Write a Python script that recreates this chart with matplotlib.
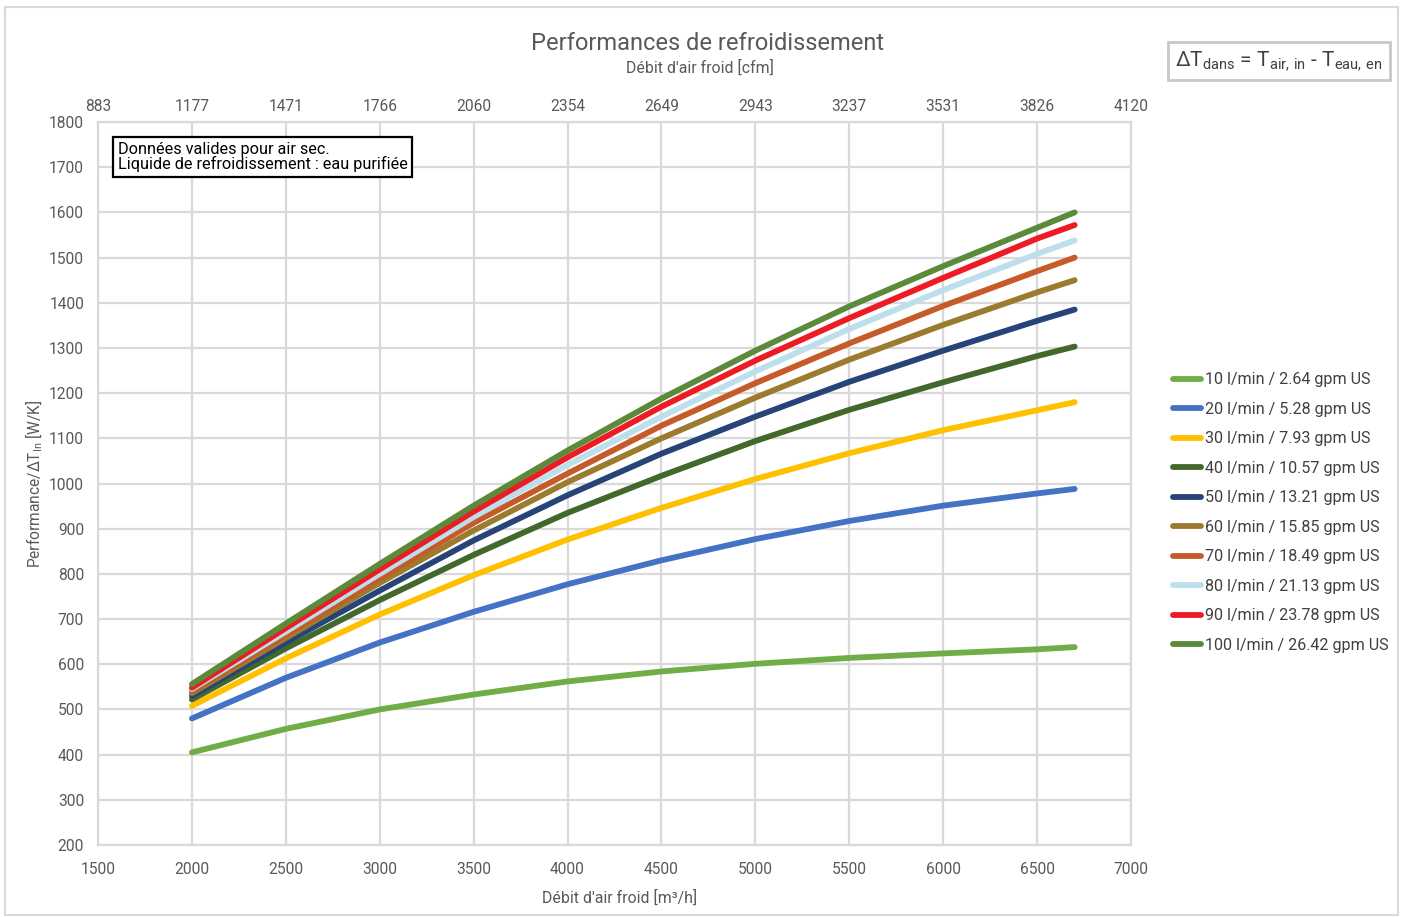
import matplotlib
matplotlib.use("Agg")
import matplotlib.pyplot as plt
from matplotlib.patches import Rectangle

plt.rcParams['font.family'] = ['Roboto', 'DejaVu Sans']
plt.rcParams['mathtext.fontset'] = 'custom'
plt.rcParams['mathtext.rm'] = 'Roboto'
plt.rcParams['mathtext.it'] = 'Roboto'

# airflow [m3/h]
airflow = [2000, 2500, 3000, 3500, 4000, 4500, 5000, 5500, 6000, 6500, 6700]

# performance / dT [W/K] for each coolant flow
perf = {
    "10 l/min / 2.64 gpm US":   [405, 457, 500, 533, 562, 584, 601, 614, 624, 633, 638],
    "20 l/min / 5.28 gpm US":   [480, 570, 648, 716, 777, 830, 877, 917, 951, 978, 988],
    "30 l/min / 7.93 gpm US":   [508, 613, 710, 797, 876, 946, 1010, 1067, 1118, 1162, 1180],
    "40 l/min / 10.57 gpm US":  [522, 635, 742, 842, 935, 1017, 1094, 1163, 1224, 1282, 1303],
    "50 l/min / 13.21 gpm US":  [530, 648, 763, 874, 974, 1066, 1148, 1225, 1294, 1360, 1385],
    "60 l/min / 15.85 gpm US":  [536, 658, 780, 896, 1003, 1100, 1190, 1274, 1351, 1423, 1450],
    "70 l/min / 18.49 gpm US":  [541, 665, 790, 913, 1022, 1128, 1222, 1310, 1393, 1470, 1500],
    "80 l/min / 21.13 gpm US":  [545, 672, 800, 926, 1041, 1148, 1248, 1342, 1428, 1508, 1538],
    "90 l/min / 23.78 gpm US":  [548, 680, 810, 938, 1058, 1170, 1272, 1366, 1455, 1542, 1572],
    "100 l/min / 26.42 gpm US": [556, 690, 822, 951, 1073, 1188, 1294, 1392, 1481, 1566, 1600],
}
colors = ["#70ad47", "#4472c4", "#ffc000", "#43682b", "#264478",
          "#9c7a2e", "#c65a28", "#bcdfeb", "#ed1c24", "#5a8a3a"]

x_ticks = [1500, 2000, 2500, 3000, 3500, 4000, 4500, 5000, 5500, 6000, 6500, 7000]
cfm_labels = ["883", "1177", "1471", "1766", "2060", "2354", "2649", "2943",
              "3237", "3531", "3826", "4120"]

txt = "#595959"
grid = "#d9d9d9"

fig = plt.figure(figsize=(14.05, 9.17), dpi=100)
fig.patches.append(Rectangle((5/1405, 2/917), 1393/1405, 908/917, transform=fig.transFigure,
                             fill=False, edgecolor=grid, lw=1.5))
ax = fig.add_axes([98/1405, 1 - 845/917, (1131 - 98)/1405, (845 - 122)/917])

for (name, vals), c in zip(perf.items(), colors):
    ax.plot(airflow, vals, color=c, lw=4.2, solid_capstyle='round',
            solid_joinstyle='round', label=name)

ax.set_xlim(1500, 7000)
ax.set_ylim(200, 1800)
ax.set_xticks(x_ticks)
ax.set_yticks(range(200, 1801, 100))
ax.grid(True, color=grid, lw=1.6)
ax.set_axisbelow(True)
for s in ax.spines.values():
    s.set_color(grid)
    s.set_linewidth(1.6)
ax.tick_params(axis='y', length=0, labelsize=11.2, labelcolor=txt, pad=10)
ax.tick_params(axis='x', length=0, labelsize=11.2, labelcolor=txt, pad=12)
ax.set_xlabel("Débit d'air froid [m³/h]", fontsize=11.4, color=txt)
ax.xaxis.set_label_coords(0.505, -0.062)
ax.set_ylabel(r"Performance/ΔT$_{\mathrm{In}}$ [W/K]", fontsize=11.2, color=txt, labelpad=3)

top = ax.secondary_xaxis('top')
top.set_xticks(x_ticks)
top.set_xticklabels(cfm_labels)
top.tick_params(length=0, labelsize=11.2, labelcolor=txt, pad=6)
for s in top.spines.values():
    s.set_visible(False)

fig.text(708/1405, 1 - 43/917, "Performances de refroidissement", ha='center', va='center',
         fontsize=17, color=txt)
fig.text(700/1405, 1 - 68/917, "Débit d'air froid [cfm]", ha='center', va='center',
         fontsize=11.4, color=txt)

ax.text(0.019, 0.972, "Données valides pour air sec.\nLiquide de refroidissement : eau purifiée",
        transform=ax.transAxes, ha='left', va='top', fontsize=11.7, color='black',
        linespacing=0.9,
        bbox=dict(boxstyle='square,pad=0.3', fc='white', ec='black', lw=1.6))

fig.text(1279/1405, 1 - 61/917,
         r"$\Delta\mathrm{T}_{\mathrm{dans}}$ = $\mathrm{T}_{\mathrm{air,\,in}}$ - $\mathrm{T}_{\mathrm{eau,\,en}}$",
         ha='center', va='center', fontsize=15, color='#404040',
         bbox=dict(boxstyle='square,pad=0.35', fc='white', ec='#c8c8c8', lw=2))

leg = ax.legend(loc='center left', bbox_to_anchor=(1.034, 0.46), frameon=False,
                fontsize=11.6, labelspacing=0.9, handlelength=1.75, handletextpad=0.25,
                borderaxespad=0)
for t in leg.get_texts():
    t.set_color('#404040')

fig.savefig("out.png", dpi=100)
